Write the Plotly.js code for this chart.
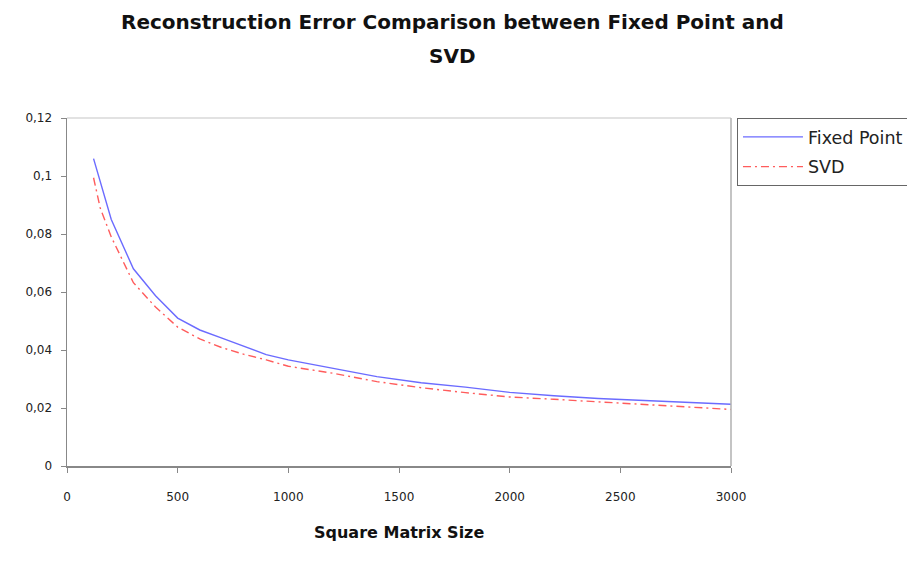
<!DOCTYPE html>
<html>
<head>
<meta charset="utf-8">
<script src="https://cdn.plot.ly/plotly-3.0.1.min.js"></script>
<style>html,body{margin:0;padding:0;background:#fff;}#chart{width:907px;height:564px;}</style>
</head>
<body>
<div id="chart"></div>
<script>
// Data
const matrixSize = [120, 150, 200, 300, 400, 500, 600, 700, 800, 900, 1000, 1200, 1400, 1600, 1800, 2000, 2200, 2400, 2600, 2800, 3000];
const fixedPointError = [0.106, 0.098, 0.085, 0.068, 0.0587, 0.0510, 0.0469, 0.0441, 0.0413, 0.0384, 0.0366, 0.0336, 0.0308, 0.0287, 0.0272, 0.0254, 0.0242, 0.0233, 0.0226, 0.0219, 0.0213];
const svdError = [0.0994, 0.089, 0.079, 0.0632, 0.0548, 0.0479, 0.0438, 0.0408, 0.0385, 0.0366, 0.0344, 0.0320, 0.0291, 0.0270, 0.0253, 0.0238, 0.0230, 0.0221, 0.0213, 0.0205, 0.0195];
const seriesNames = ["Fixed Point", "SVD"];
const titleLines = ["Reconstruction Error Comparison between Fixed Point and", "SVD"];
const xTitle = "Square Matrix Size";

const FONT = "DejaVu Sans, Verdana, sans-serif";

const traces = [
  {x: matrixSize, y: fixedPointError, name: seriesNames[0], type: "scatter", mode: "lines",
   legendgroup: "a", line: {color: "#6b6bff", width: 1.4}},
  {x: matrixSize, y: svdError, name: seriesNames[1], type: "scatter", mode: "lines",
   legendgroup: "b", line: {color: "#ff5c5c", width: 1.4, dash: "8px,4px,2px,4px"}}
];

const layout = {
  width: 907, height: 564,
  margin: {l: 67, r: 176, t: 118, b: 98, autoexpand: false},
  paper_bgcolor: "#fff", plot_bgcolor: "#fff",
  separators: ",.",
  font: {family: FONT, size: 12, color: "#222"},
  showlegend: true,
  legend: {x: 1.009, y: 1.0, xanchor: "left", yanchor: "top",
           bordercolor: "#666", borderwidth: 1, bgcolor: "#fff",
           font: {family: FONT, size: 17.5, color: "#222"},
           traceorder: "grouped", tracegroupgap: 4, itemwidth: 60},
  xaxis: {range: [0, 3000], dtick: 500, tick0: 0, showgrid: false, zeroline: false,
          showline: true, linecolor: "#888", linewidth: 1.5,
          ticks: "outside", ticklen: 5, tickcolor: "#888",
          ticklabelstandoff: 14,
          tickfont: {family: FONT, size: 12, color: "#222"}},
  yaxis: {range: [0, 0.12], dtick: 0.02, tick0: 0, showgrid: false, zeroline: false,
          showline: true, linecolor: "#888", linewidth: 1.5,
          ticks: "outside", ticklen: 5, tickcolor: "#888",
          ticklabelstandoff: 6,
          tickfont: {family: FONT, size: 12, color: "#222"}},
  shapes: [
    {type: "line", xref: "paper", yref: "paper", x0: 0, x1: 1, y0: 1, y1: 1, line: {color: "#d8d8d8", width: 1.5}},
    {type: "line", xref: "paper", yref: "paper", x0: 1, x1: 1, y0: 0, y1: 1, line: {color: "#b0b0b0", width: 1.5}}
  ],
  annotations: [
    {text: "<b>" + titleLines[0] + "</b>", xref: "paper", yref: "paper", x: 0.58, y: 1.276,
     xanchor: "center", yanchor: "middle", showarrow: false, font: {family: FONT, size: 20, color: "#111"}},
    {text: "<b>" + titleLines[1] + "</b>", xref: "paper", yref: "paper", x: 0.58, y: 1.178,
     xanchor: "center", yanchor: "middle", showarrow: false, font: {family: FONT, size: 20, color: "#111"}},
    {text: "<b>" + xTitle + "</b>", xref: "paper", yref: "paper", x: 0.5, y: -0.19,
     xanchor: "center", yanchor: "middle", showarrow: false, font: {family: FONT, size: 16, color: "#111"}}
  ]
};

Plotly.newPlot("chart", traces, layout, {displayModeBar: false, staticPlot: true});
</script>
</body>
</html>
